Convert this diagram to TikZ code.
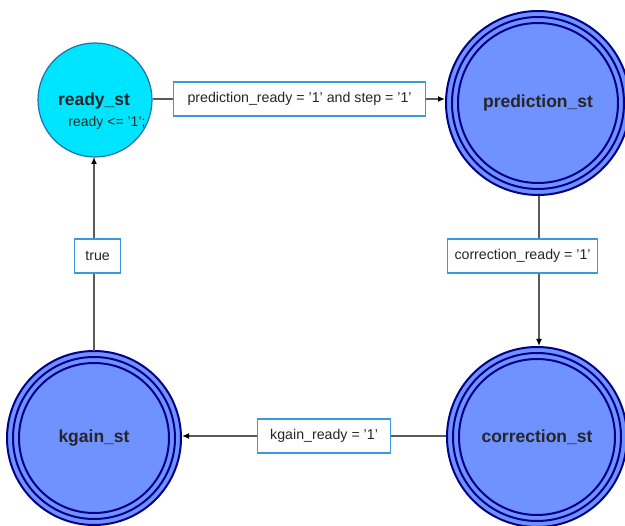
\documentclass[tikz,border=0pt]{standalone}
\usepackage{fontspec}
\setmainfont{Liberation Sans}
\usetikzlibrary{arrows.meta}
\definecolor{stfill}{HTML}{7092FF}
\definecolor{stline}{HTML}{00008B}
\definecolor{rdyfill}{HTML}{00E5FF}
\definecolor{rdyline}{HTML}{1E6FB0}
\definecolor{boxline}{HTML}{3A9AD9}
\definecolor{edgecol}{HTML}{5A5A5A}
\definecolor{acttext}{HTML}{203020}
\begin{document}
\begin{tikzpicture}[x=1pt,y=-1pt,
  state/.style={circle, fill=stfill, draw=stline, line width=2pt, inner sep=0pt},
  ring/.style={draw=stline, line width=2pt},
  rdystate/.style={circle, fill=rdyfill, draw=rdyline, line width=1.2pt, inner sep=0pt},
  sname/.style={font=\fontsize{17.5}{20}\selectfont\bfseries, text=black!85},
  lbl/.style={rectangle, draw=boxline, line width=1.2pt, fill=white, inner xsep=6pt,
    minimum height=34pt, anchor=west, font=\fontsize{14.2}{16}\selectfont, text=black!85},
  edge/.style={draw=edgecol, line width=1.6pt},
  arr/.style={edge, -{Latex[length=7pt,width=6pt,color=black]}}
]
\useasboundingbox (0,0) rectangle (625,526);
\node[rdystate, minimum size=114pt] (rdy) at (95,100) {};
\node[sname] (rdyname) at (94,101) {ready\_st};
\node[font=\fontsize{14}{16}\selectfont, text=acttext] (rdyact) at (107,123) {ready <= '1';};

\node[state, minimum size=184pt] (pred) at (538,103) {};
\draw[ring] (pred.center) circle[radius=86pt] (pred.center) circle[radius=80pt];
\node[sname] at (pred.center) {prediction\_st};

\node[state, minimum size=180pt] (corr) at (537,437) {};
\draw[ring] (corr.center) circle[radius=84pt] (corr.center) circle[radius=78pt];
\node[sname] at (corr.center) {correction\_st};

\node[state, minimum size=174pt] (kg) at (94,438) {};
\draw[ring] (kg.center) circle[radius=81pt] (kg.center) circle[radius=75pt];
\node[sname] at (kg.center) {kgain\_st};

\node[lbl, minimum width=252pt] (l1) at (173,99) {prediction\_ready = '1' and step = '1'};
\node[lbl, minimum width=150pt] (l2) at (447,256) {correction\_ready = '1'};
\node[lbl, minimum width=133pt] (l3) at (257,436) {kgain\_ready = '1'};
\node[lbl, minimum width=46pt] (l4) at (74,256) {true};

\draw[edge] (rdy.east |- l1.west) -- (l1.west);
\draw[arr] (l1.east) -- (pred.west |- l1.east);
\draw[edge] (pred.south -| 539,0) -- (539,0 |- l2.north);
\draw[arr] (539,0 |- l2.south) -- (539,346);
\draw[edge] (l3.east -| corr.west) -- (l3.east);
\draw[arr] (l3.west) -- (l3.west -| kg.east);
\draw[edge] (94,351) -- (94,0 |- l4.south);
\draw[arr] (94,0 |- l4.north) -- (94,157);
\end{tikzpicture}
\end{document}
